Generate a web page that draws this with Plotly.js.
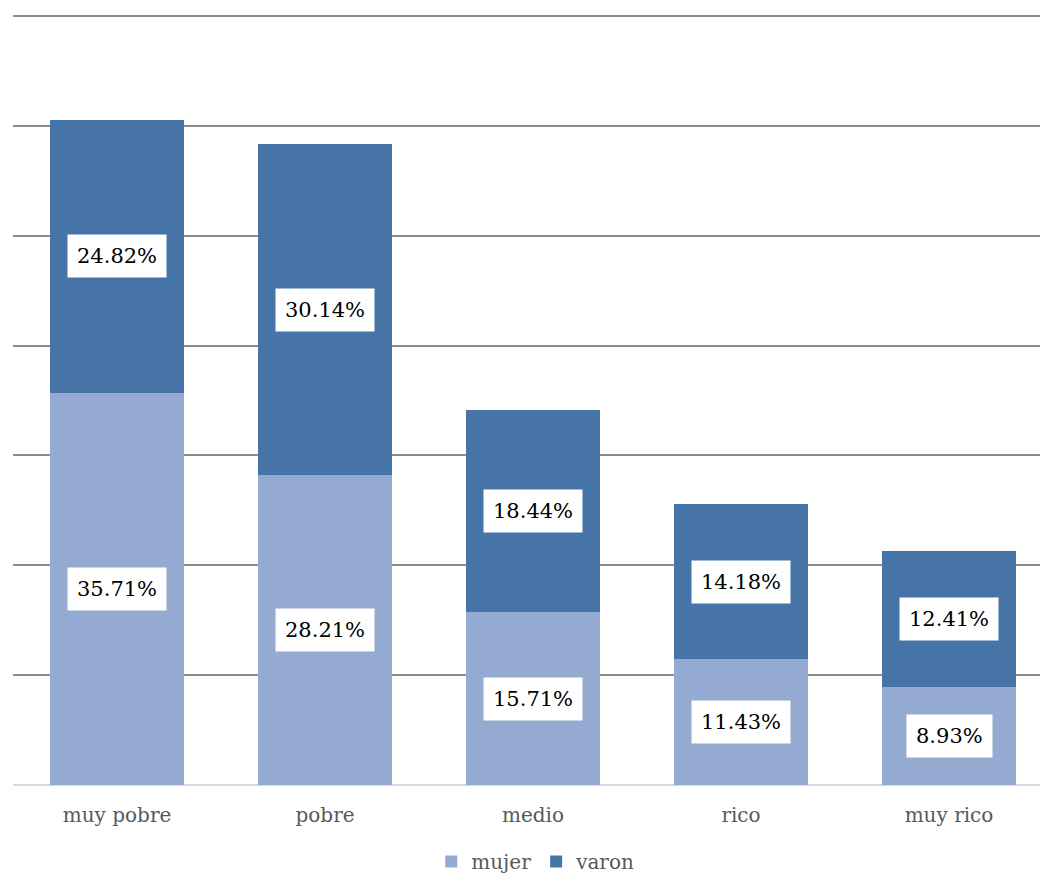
<!DOCTYPE html>
<html>
<head>
<meta charset="utf-8">
<script src="https://cdn.plot.ly/plotly-3.0.1.min.js"></script>
<style>
  html, body { margin: 0; padding: 0; background: #ffffff; }
  #chart { width: 1040px; height: 877px; }
</style>
</head>
<body>
<div id="chart"></div>
<script>
// Share of each income group, split by sex (percent)
const categories = ["muy pobre", "pobre", "medio", "rico", "muy rico"];
const mujer = [35.71, 28.21, 15.71, 11.43, 8.93];
const varon = [24.82, 30.14, 18.44, 14.18, 12.41];
const seriesNames = ["mujer", "varon"];

const colorMujer = "#95AAD0";
const colorVaron = "#4674A7";
const serif = "DejaVu Serif, Liberation Serif, serif";

const fmt = v => v.toFixed(2) + "%";

const traces = [
  {
    type: "bar",
    name: seriesNames[0],
    x: categories,
    y: mujer,
    marker: { color: colorMujer },
    hoverinfo: "skip"
  },
  {
    type: "bar",
    name: seriesNames[1],
    x: categories,
    y: varon,
    marker: { color: colorVaron },
    hoverinfo: "skip"
  }
];

// Value labels in white boxes, centred on each stacked segment
const annotations = [];
categories.forEach((c, i) => {
  annotations.push({
    x: c, y: mujer[i] / 2, xref: "x", yref: "y",
    text: fmt(mujer[i]), showarrow: false,
    font: { family: serif, size: 21, color: "#000000" },
    bgcolor: "#ffffff", borderpad: 9
  });
  annotations.push({
    x: c, y: mujer[i] + varon[i] / 2, xref: "x", yref: "y",
    text: fmt(varon[i]), showarrow: false,
    font: { family: serif, size: 21, color: "#000000" },
    bgcolor: "#ffffff", borderpad: 9
  });
});

const layout = {
  width: 1040,
  height: 877,
  margin: { l: 13, r: 0, t: 5, b: 92, autoexpand: false },
  paper_bgcolor: "#ffffff",
  plot_bgcolor: "#ffffff",
  barmode: "stack",
  bargap: 0.356,
  showlegend: true,
  legend: {
    orientation: "h",
    x: 0.509, xanchor: "center",
    y: -0.098, yanchor: "middle",
    font: { family: serif, size: 20, color: "#595959" },
    traceorder: "normal"
  },
  xaxis: {
    type: "category",
    range: [-0.5, -0.5 + 1027 / 208],
    showgrid: false,
    showline: false,
    ticks: "",
    ticklabelstandoff: 16,
    tickfont: { family: serif, size: 20, color: "#595959" },
    fixedrange: true
  },
  yaxis: {
    range: [0, 71],
    tickvals: [0, 10, 20, 30, 40, 50, 60, 70],
    showgrid: true,
    gridcolor: "#8C8C8C",
    gridwidth: 2,
    zeroline: true,
    zerolinecolor: "#D9D9D9",
    zerolinewidth: 2,
    showticklabels: false,
    ticks: "",
    fixedrange: true
  },
  annotations: annotations
};

Plotly.newPlot("chart", traces, layout, { displayModeBar: false, staticPlot: true });
</script>
</body>
</html>
